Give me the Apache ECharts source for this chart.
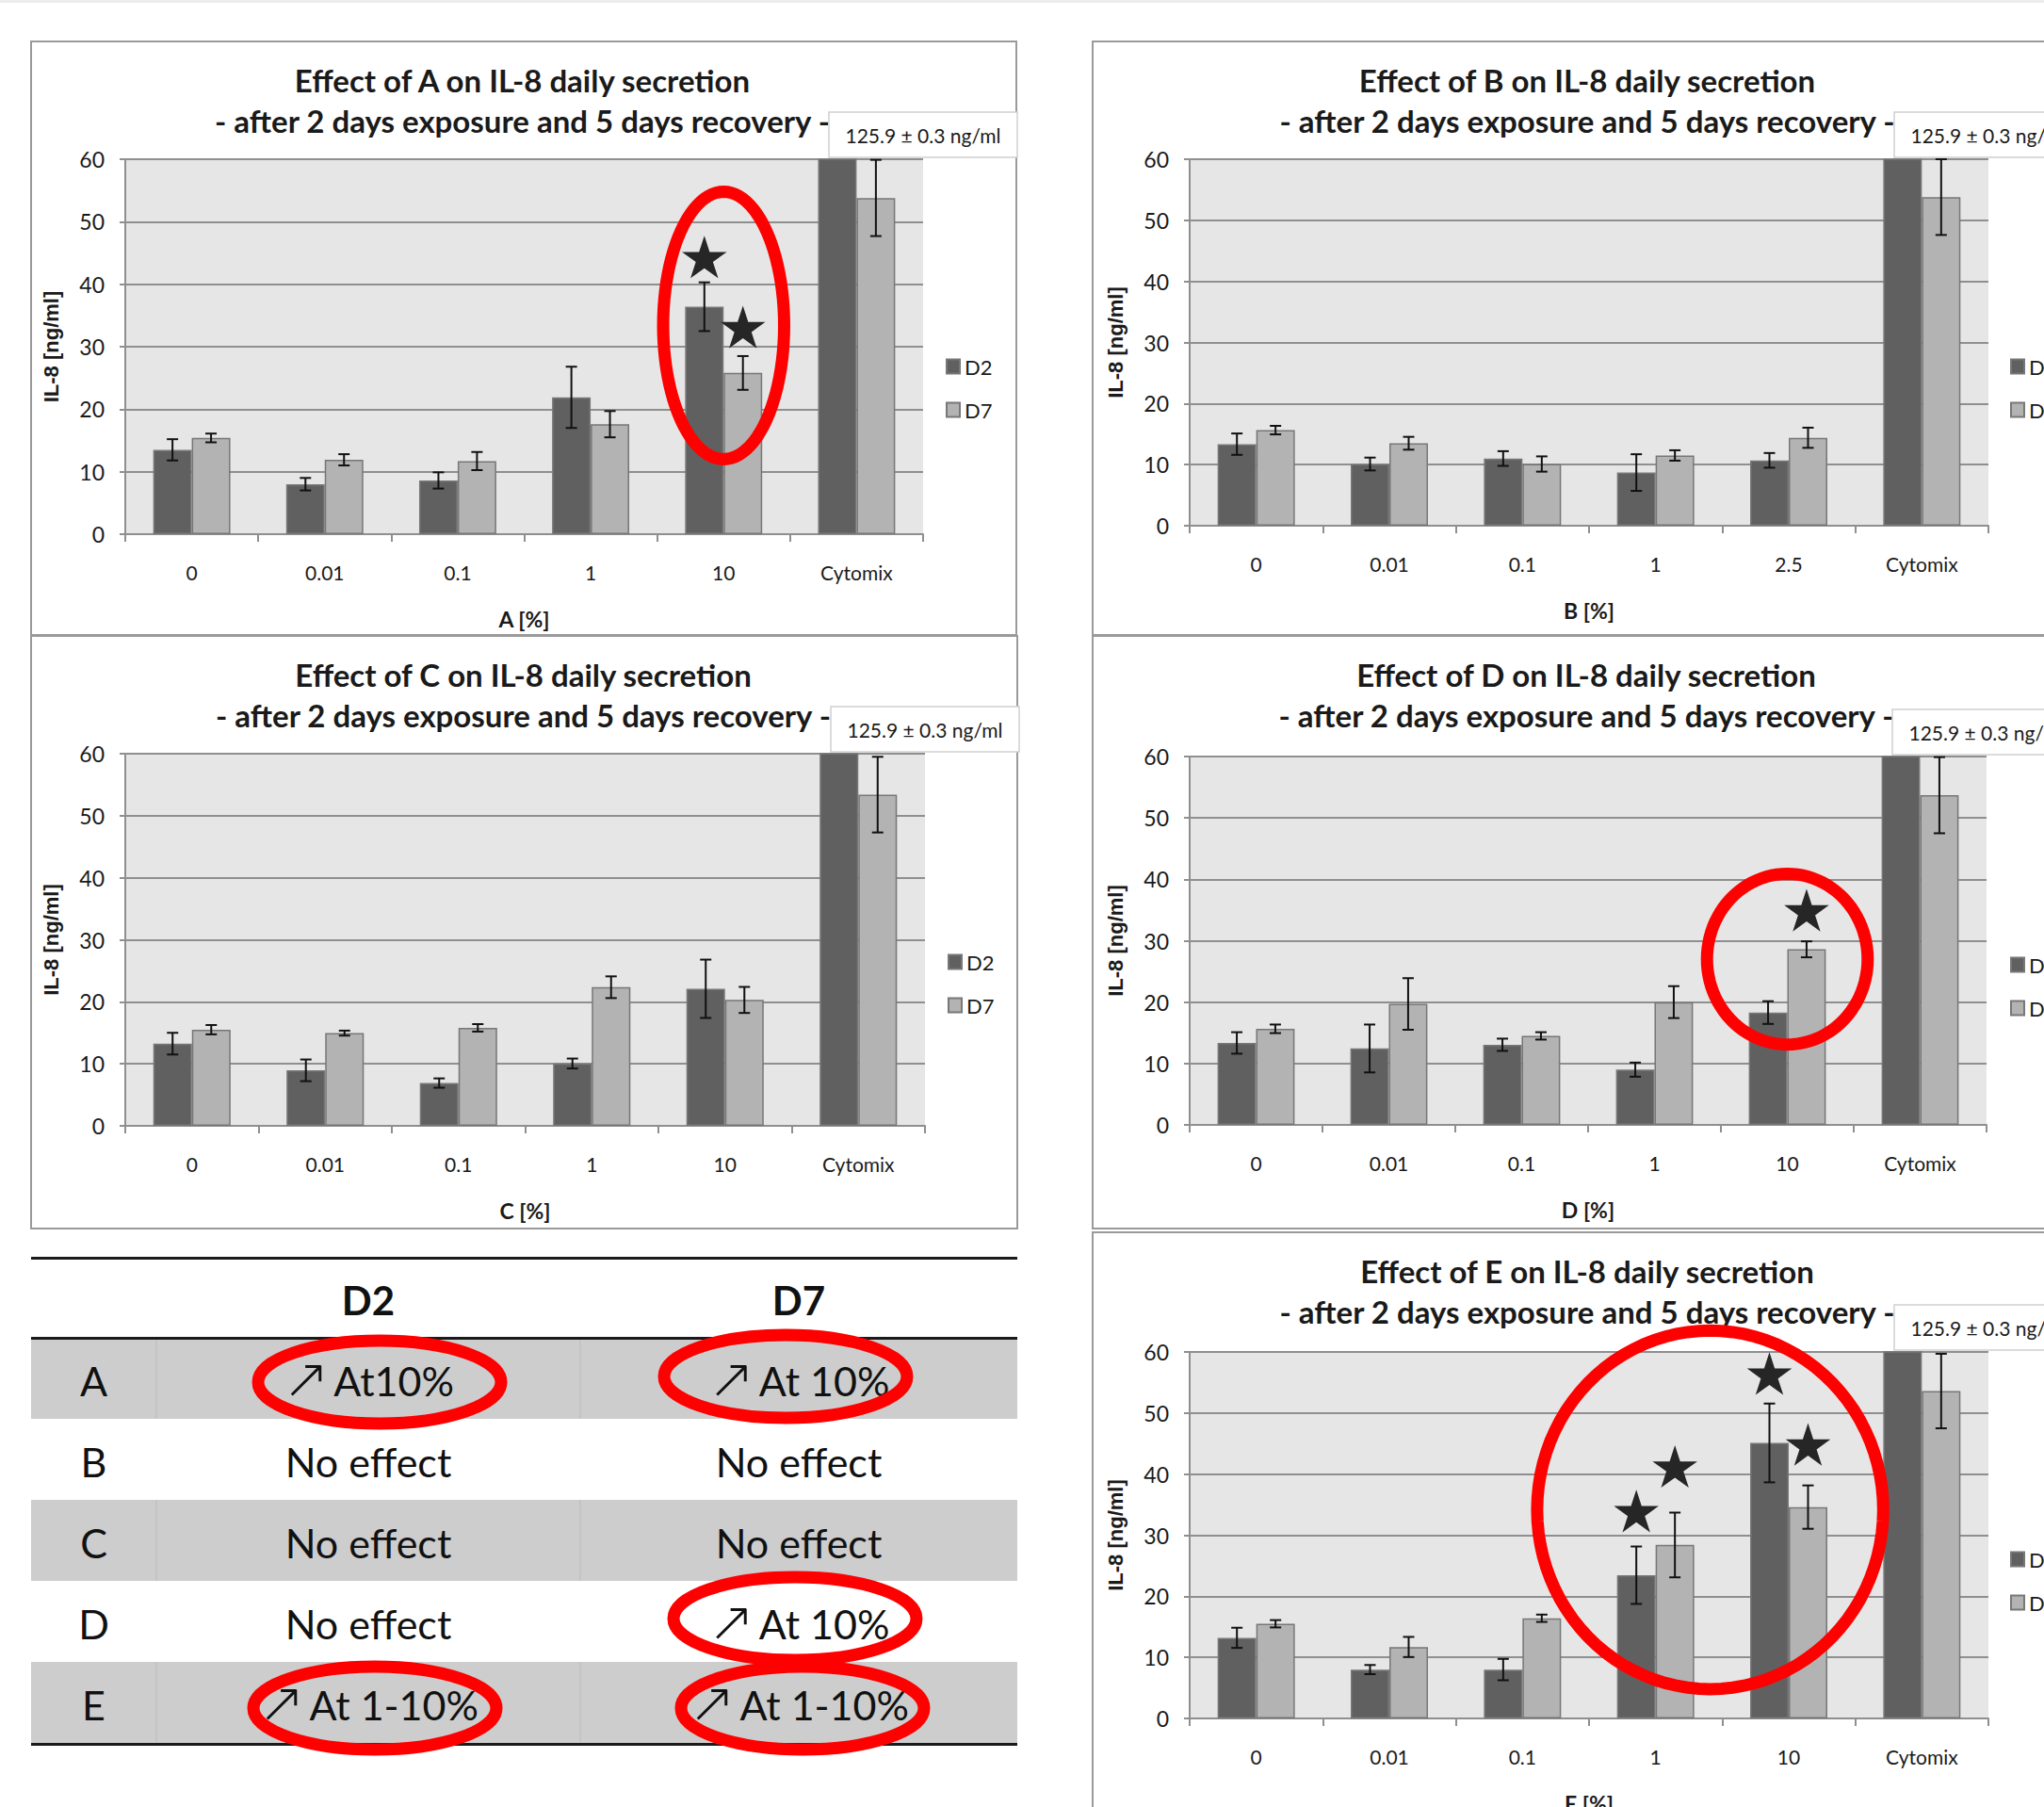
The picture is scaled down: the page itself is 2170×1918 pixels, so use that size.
<!DOCTYPE html>
<html>
<head>
<meta charset="utf-8">
<script src="https://cdn.jsdelivr.net/npm/echarts@6/dist/echarts.min.js"></script>
<style>
  html, body { margin: 0; padding: 0; background: #ffffff; }
  #chart { width: 2170px; height: 1918px; }
</style>
</head>
<body>
<div id="chart"></div>
<script>
// ---- IL-8 secretion (ng/ml), mean and error, per dose, day 2 (D2) and day 7 (D7) ----
const catsA = ['0', '0.01', '0.1', '1', '10', 'Cytomix'];
const d2A = [13.5, 8.0, 8.6, 21.9, 36.4, 125.9];
const d2ErrA = [1.7, 1.0, 1.3, 4.9, 3.9, 0.3];
const d7A = [15.4, 11.9, 11.7, 17.6, 25.8, 53.8];
const d7ErrA = [0.7, 0.9, 1.45, 2.1, 2.7, 6.1];

const catsB = ['0', '0.01', '0.1', '1', '2.5', 'Cytomix'];
const d2B = [13.35, 10.1, 11.0, 8.7, 10.7, 125.9];
const d2ErrB = [1.75, 1.05, 1.2, 3.0, 1.2, 0.3];
const d7B = [15.65, 13.5, 10.1, 11.5, 14.4, 53.8];
const d7ErrB = [0.7, 1.05, 1.25, 0.85, 1.65, 6.2];

const catsC = ['0', '0.01', '0.1', '1', '10', 'Cytomix'];
const d2C = [13.25, 8.95, 6.9, 10.05, 22.1, 125.9];
const d2ErrC = [1.75, 1.75, 0.75, 0.8, 4.7, 0.3];
const d7C = [15.5, 14.95, 15.8, 22.35, 20.3, 53.4];
const d7ErrC = [0.75, 0.4, 0.6, 1.75, 2.1, 6.1];

const catsD = ['0', '0.01', '0.1', '1', '10', 'Cytomix'];
const d2D = [13.35, 12.45, 13.05, 9.0, 18.3, 125.9];
const d2ErrD = [1.75, 3.9, 1.0, 1.15, 1.85, 0.3];
const d7D = [15.65, 19.7, 14.5, 20.0, 28.6, 53.7];
const d7ErrD = [0.7, 4.2, 0.6, 2.6, 1.3, 6.2];

const catsE = ['0', '0.01', '0.1', '1', '10', 'Cytomix'];
const d2E = [13.2, 8.0, 8.0, 23.45, 45.1, 125.9];
const d2ErrE = [1.65, 0.75, 1.75, 4.7, 6.45, 0.3];
const d7E = [15.5, 11.7, 16.4, 28.4, 34.6, 53.6];
const d7ErrE = [0.6, 1.65, 0.6, 5.3, 3.55, 6.1];

// Cytomix positive-control value, printed above the off-scale bar
const cytomixNote = '125.9 \u00b1 0.3 ng/ml';

// Significance stars: [category index, y value, bar (0 = D2, 1 = D7)]
const starsA = [[4, 44.3, 0], [4, 33.1, 1]];
const starsB = [];
const starsC = [];
const starsD = [[4, 34.9, 1]];
const starsE = [[3, 33.9, 0], [3, 41.2, 1], [4, 56.4, 0], [4, 44.8, 1]];

// Highlight rings: [category index, y centre, extra shift in categories, width in categories, height in ng/ml]
const ringsA = [[4, 33.4, 0, 0.91, 42.8]];
const ringsB = [];
const ringsC = [];
const ringsD = [[4, 27.0, 0, 1.21, 27.8]];
const ringsE = [[3, 34.15, 0.41, 2.6, 58.7]];

// Summary table
const tableCols = ['D2', 'D7'];
const tableRowNames = ['A', 'B', 'C', 'D', 'E'];
const tableD2 = [['\u2197', 'At10%'], [null, 'No effect'], [null, 'No effect'], [null, 'No effect'], ['\u2197', 'At 1-10%']];
const tableD7 = [['\u2197', 'At 10%'], [null, 'No effect'], [null, 'No effect'], ['\u2197', 'At 10%'], ['\u2197', 'At 1-10%']];
// circled cells: [row index, column index, dx, dy]
const tableCircled = [[0, 0, 12, 4], [0, 1, -14, -2], [3, 1, -4, -3], [4, 0, 7, 6], [4, 1, 4, 6]];

// ---------------------------------------------------------------------------
const Y_MAX = 60;
const FONT = 'Lato';
const TEXT = '#1a1a1a';
const AXIS_GREY = '#8f8f8f';
const DARK_BAR = '#606060';
const LIGHT_BAR = '#b3b3b3';
const RED = '#ff0000';
const BAR_FRACTION = 0.29;   // one bar's width as a share of the category band

const panels = [
  { key: 'A', cats: catsA, d2: d2A, e2: d2ErrA, d7: d7A, e7: d7ErrA, stars: starsA, rings: ringsA,
    grid: { left: 133, top: 169, width: 847, height: 398 }, frame: [33, 44, 1046, 630], legend: [1004, 378] },
  { key: 'B', cats: catsB, d2: d2B, e2: d2ErrB, d7: d7B, e7: d7ErrB, stars: starsB, rings: ringsB,
    grid: { left: 1263, top: 169, width: 848, height: 389 }, frame: [1160, 44, 1030, 630], legend: [2134, 378] },
  { key: 'C', cats: catsC, d2: d2C, e2: d2ErrC, d7: d7C, e7: d7ErrC, stars: starsC, rings: ringsC,
    grid: { left: 133, top: 800, width: 849, height: 395 }, frame: [33, 675, 1047, 629], legend: [1006, 1010] },
  { key: 'D', cats: catsD, d2: d2D, e2: d2ErrD, d7: d7D, e7: d7ErrD, stars: starsD, rings: ringsD,
    grid: { left: 1263, top: 803, width: 846, height: 391 }, frame: [1160, 675, 1030, 629], legend: [2134, 1013] },
  { key: 'E', cats: catsE, d2: d2E, e2: d2ErrE, d7: d7E, e7: d7ErrE, stars: starsE, rings: ringsE,
    grid: { left: 1263, top: 1435, width: 848, height: 389 }, frame: [1160, 1308, 1030, 640], legend: [2134, 1644] }
];

function barCenterX(api, cat, value, slot) {
  const band = api.size([1, 0])[0];
  const c = api.coord([cat, value]);
  const w = band * BAR_FRACTION;
  return { x: c[0] + (slot === 0 ? -w / 2 : w / 2), y: c[1], band: band };
}

function errorSeries(gi, values, errs, slot) {
  return {
    type: 'custom', xAxisIndex: gi, yAxisIndex: gi, z: 4, silent: true,
    data: values.map((v, i) => [i, v, errs[i]]),
    renderItem(params, api) {
      const i = api.value(0), v = api.value(1), e = api.value(2);
      if (v > Y_MAX) return null;   // bar runs off the scale, its error bar is not shown
      const p = barCenterX(api, i, v, slot);
      const top = api.coord([i, v + e])[1];
      const bot = api.coord([i, Math.max(0, v - e)])[1];
      const cap = 6;
      const st = { stroke: '#111111', lineWidth: 2 };
      return { type: 'group', children: [
        { type: 'line', shape: { x1: p.x, y1: top, x2: p.x, y2: bot }, style: st },
        { type: 'line', shape: { x1: p.x - cap, y1: top, x2: p.x + cap, y2: top }, style: st },
        { type: 'line', shape: { x1: p.x - cap, y1: bot, x2: p.x + cap, y2: bot }, style: st }
      ] };
    }
  };
}

function starPoints(cx, cy, R) {
  const pts = [];
  for (let k = 0; k < 10; k++) {
    const r = k % 2 ? R * 0.382 : R;
    const a = -Math.PI / 2 + k * Math.PI / 5;
    pts.push([cx + r * Math.cos(a), cy + r * Math.sin(a)]);
  }
  return pts;
}

function starSeries(gi, stars) {
  return {
    type: 'custom', xAxisIndex: gi, yAxisIndex: gi, z: 6, silent: true,
    data: stars,
    renderItem(params, api) {
      const p = barCenterX(api, api.value(0), api.value(1), api.value(2));
      return { type: 'polygon', shape: { points: starPoints(p.x, p.y + 2, 25) }, style: { fill: '#262626' } };
    }
  };
}

function ellipsePoints(cx, cy, rx, ry) {
  const pts = [];
  for (let k = 0; k < 96; k++) {
    const a = k / 96 * Math.PI * 2;
    pts.push([cx + rx * Math.cos(a), cy + ry * Math.sin(a)]);
  }
  return pts;
}

function ringSeries(gi, rings) {
  return {
    type: 'custom', xAxisIndex: gi, yAxisIndex: gi, z: 8, silent: true,
    data: rings,
    renderItem(params, api) {
      const cat = api.value(0), yc = api.value(1), shift = api.value(2), wc = api.value(3), hu = api.value(4);
      const band = api.size([1, 0])[0];
      const c = api.coord([cat, yc]);
      const ry = api.size([0, hu], [cat, yc])[1] / 2;
      const rx = band * wc / 2;
      return { type: 'polygon', shape: { points: ellipsePoints(c[0] + shift * band, c[1], rx, ry) },
               style: { fill: 'none', stroke: RED, lineWidth: 13 } };
    }
  };
}

const grids = [], xAxes = [], yAxes = [], series = [], legends = [], graphics = [];

// faint strip along the very top
graphics.push({ type: 'rect', shape: { x: 0, y: 0, width: 2170, height: 3 }, style: { fill: '#ececec' }, z: 0 });

panels.forEach((p, gi) => {
  grids.push(Object.assign({ show: true, backgroundColor: '#e6e6e6', borderWidth: 0,
    containLabel: false, outerBoundsMode: 'none' }, p.grid));
  xAxes.push({
    type: 'category', gridIndex: gi, data: p.cats,
    axisLine: { lineStyle: { color: AXIS_GREY, width: 2 } },
    axisTick: { show: true, length: 8, lineStyle: { color: AXIS_GREY, width: 2 } },
    axisLabel: { margin: 30, fontSize: 21, fontFamily: FONT, color: TEXT },
    name: p.key + ' [%]', nameLocation: 'middle', nameGap: 78,
    nameTextStyle: { fontSize: 23, fontWeight: 'bold', fontFamily: FONT, color: TEXT }
  });
  yAxes.push({
    type: 'value', gridIndex: gi, min: 0, max: Y_MAX, interval: 10,
    axisLine: { show: true, lineStyle: { color: AXIS_GREY, width: 2 } },
    axisTick: { show: true, length: 6, lineStyle: { color: AXIS_GREY, width: 2 } },
    splitLine: { lineStyle: { color: AXIS_GREY, width: 2 } },
    axisLabel: { margin: 22, fontSize: 23, fontFamily: FONT, color: TEXT },
    name: 'IL-8 [ng/ml]', nameLocation: 'middle', nameGap: 68, nameRotate: 90,
    nameTextStyle: { fontSize: 22, fontWeight: 'bold', fontFamily: 'Liberation Sans', color: TEXT }
  });
  series.push({
    type: 'bar', name: 'D2', xAxisIndex: gi, yAxisIndex: gi, data: p.d2,
    barGap: '0%', barCategoryGap: '42%', silent: true,
    itemStyle: { color: DARK_BAR, borderColor: '#777777', borderWidth: 1.5 }
  });
  series.push({
    type: 'bar', name: 'D7', xAxisIndex: gi, yAxisIndex: gi, data: p.d7,
    barGap: '0%', barCategoryGap: '42%', silent: true,
    itemStyle: { color: LIGHT_BAR, borderColor: '#777777', borderWidth: 1.5 }
  });
  series.push(errorSeries(gi, p.d2, p.e2, 0));
  series.push(errorSeries(gi, p.d7, p.e7, 1));
  if (p.stars.length) series.push(starSeries(gi, p.stars));
  if (p.rings.length) series.push(ringSeries(gi, p.rings));

  legends.push({
    data: ['D2', 'D7'], orient: 'vertical', left: p.legend[0], top: p.legend[1], padding: 0,
    icon: 'rect', itemWidth: 14, itemHeight: 15, itemGap: 24, selectedMode: false,
    textStyle: { fontSize: 22, lineHeight: 22, fontFamily: FONT, color: TEXT }
  });

  // panel frame
  const f = p.frame;
  graphics.push({ type: 'rect', shape: { x: f[0], y: f[1], width: f[2], height: f[3] },
    style: { fill: 'none', stroke: '#9a9a9a', lineWidth: 2 }, z: 1 });

  // two-line title
  const cx = p.grid.left + p.grid.width / 2 - 2;
  graphics.push({ type: 'text', x: cx, y: f[1] + 41, z: 3,
    style: { text: 'Effect of ' + p.key + ' on IL-8 daily secretion', fontSize: 33, fontWeight: 'bold',
             fontFamily: FONT, fill: TEXT, align: 'center', verticalAlign: 'middle' } });
  graphics.push({ type: 'text', x: cx, y: f[1] + 84, z: 3,
    style: { text: '- after 2 days exposure and 5 days recovery -', fontSize: 33, fontWeight: 'bold',
             fontFamily: FONT, fill: TEXT, align: 'center', verticalAlign: 'middle' } });

  // note box for the off-scale Cytomix bar
  const gr = p.grid.left + p.grid.width;
  graphics.push({ type: 'rect', shape: { x: gr - 100, y: p.grid.top - 50, width: 200, height: 48 },
    style: { fill: '#ffffff', stroke: '#cfcfcf', lineWidth: 1.5 }, z: 4 });
  graphics.push({ type: 'text', x: gr, y: p.grid.top - 26, z: 5,
    style: { text: cytomixNote, fontSize: 21, fontFamily: FONT, fill: TEXT, align: 'center', verticalAlign: 'middle' } });
});

// ---- summary table ----
const T = { left: 33, right: 1080, top: 1334, headTop: 1420, rowH: 86, col1: 166, col2: 616 };
const colCenters = [(T.col1 + T.col2) / 2, (T.col2 + T.right) / 2];
const rowCenter = r => T.headTop + T.rowH * r + T.rowH / 2;
const cellRich = {
  arr: { fontSize: 60, fontFamily: 'DejaVu Sans', fontWeight: 200, fill: '#111', padding: [0, 4, 4, 0] },
  txt: { fontSize: 43, fontFamily: FONT, fill: '#111' }
};

tableRowNames.forEach((name, r) => {
  const y0 = T.headTop + T.rowH * r;
  if (r % 2 === 0) {
    graphics.push({ type: 'rect', shape: { x: T.left, y: y0, width: T.right - T.left, height: T.rowH },
      style: { fill: '#cdcdcd' }, z: 1 });
    [T.col1, T.col2].forEach(x => graphics.push({ type: 'line', shape: { x1: x, y1: y0, x2: x, y2: y0 + T.rowH },
      style: { stroke: '#bdbdbd', lineWidth: 1 }, z: 2 }));
  }
  const ty = rowCenter(r) + 2;
  graphics.push({ type: 'text', x: (T.left + T.col1) / 2, y: ty, z: 3,
    style: { text: name, fontSize: 43, fontFamily: FONT, fill: '#111', align: 'center', verticalAlign: 'middle' } });
  [tableD2[r], tableD7[r]].forEach((cell, c) => {
    const text = (cell[0] ? '{arr|' + cell[0] + '}' : '') + '{txt|' + cell[1] + '}';
    graphics.push({ type: 'text', x: colCenters[c], y: ty, z: 3,
      style: { text: text, rich: cellRich, align: 'center', verticalAlign: 'middle' } });
  });
});
tableCols.forEach((h, c) => graphics.push({ type: 'text', x: colCenters[c], y: 1380, z: 3,
  style: { text: h, fontSize: 42, fontWeight: 'bold', fontFamily: FONT, fill: '#111', align: 'center', verticalAlign: 'middle' } }));
[T.top, T.headTop - 1, T.headTop + T.rowH * tableRowNames.length].forEach(y =>
  graphics.push({ type: 'rect', shape: { x: T.left, y: y, width: T.right - T.left, height: 3 }, style: { fill: '#1a1a1a' }, z: 3 }));
tableCircled.forEach(([r, c, dx, dy]) => graphics.push({ type: 'ellipse', z: 6,
  shape: { cx: colCenters[c] + dx, cy: rowCenter(r) + dy, rx: 129, ry: 44 },
  style: { fill: 'none', stroke: RED, lineWidth: 13 } }));

const chart = echarts.init(document.getElementById('chart'), null, { renderer: 'svg', width: 2170, height: 1918 });
chart.setOption({
  animation: false,
  backgroundColor: '#ffffff',
  grid: grids, xAxis: xAxes, yAxis: yAxes, series: series, legend: legends,
  graphic: { elements: graphics }
});
</script>
</body>
</html>
